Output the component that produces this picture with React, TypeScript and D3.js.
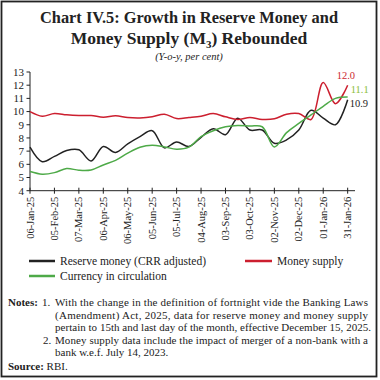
import React from "react";
import * as d3 from "d3";

const dates = [
  "06-Jan-25","21-Jan-25","05-Feb-25","20-Feb-25","07-Mar-25","22-Mar-25","06-Apr-25","21-Apr-25",
  "06-May-25","21-May-25","05-Jun-25","20-Jun-25","05-Jul-25","20-Jul-25","04-Aug-25","19-Aug-25",
  "03-Sep-25","18-Sep-25","03-Oct-25","18-Oct-25","02-Nov-25","17-Nov-25","02-Dec-25","17-Dec-25",
  "01-Jan-26","16-Jan-26","31-Jan-26",
];
const reserveMoney = [7.3,6.2,6.6,7.05,7.1,6.25,7.35,6.9,7.55,8.1,8.55,7.25,7.7,7.35,8.05,8.7,8.25,9.5,8.6,8.6,7.6,7.85,8.6,10.1,9.5,9.0,10.9];
const moneySupply = [10.0,9.65,9.85,9.75,9.7,9.7,9.57,9.68,9.55,9.52,9.6,9.8,9.47,9.55,9.65,9.85,9.6,9.4,9.55,9.4,9.45,9.8,9.85,9.4,12.2,10.6,12.0];
const currency = [5.45,5.25,5.37,5.68,5.55,5.57,5.95,6.3,6.85,7.3,7.45,7.32,7.15,7.3,8.1,8.55,8.85,8.95,8.9,8.85,7.32,8.4,9.1,9.75,10.4,11.0,11.1];
const xTickLabels = ["06-Jan-25","05-Feb-25","07-Mar-25","06-Apr-25","06-May-25","05-Jun-25","05-Jul-25","04-Aug-25","03-Sep-25","03-Oct-25","02-Nov-25","02-Dec-25","01-Jan-26","31-Jan-26"];
const yTicks = [4,5,6,7,8,9,10,11,12,13];
const endLabels = ["10.9","12.0","11.1"];

const parse = d3.timeParse("%d-%b-%y");
const serif = "'Liberation Serif', 'DejaVu Serif', serif";

export default function App() {
  const x = d3.scaleTime().domain([parse("06-Jan-25")!, parse("09-Feb-26")!]).range([30, 355]);
  const y = d3.scaleLinear().domain([4, 13]).range([190.7, 72]);
  const parsed = dates.map((d) => parse(d)!);
  const line = d3.line<number>().x((_, i) => x(parsed[i])).y((v) => y(v)).curve(d3.curveCatmullRom.alpha(0.5));
  const series = [
    { vals: reserveMoney, color: "#222222" },
    { vals: moneySupply, color: "#CC1F2F" },
    { vals: currency, color: "#4EAA48" },
  ];
  const lastX = x(parsed[parsed.length - 1]);
  return (
    <svg width={380} height={380} style={{ position: "absolute", left: 0, top: 0 }}>
      <rect x={0} y={0} width={380} height={380} fill="#fff" />
      <rect x={1.5} y={1.5} width={375} height={375} fill="none" stroke="#222" strokeWidth={1.8} />
      <text x={189} y={23} textAnchor="middle" fontFamily={serif} fontWeight="bold" fontSize={17.5} fill="#222" textLength={298} lengthAdjust="spacingAndGlyphs">Chart IV.5: Growth in Reserve Money and</text>
      <text x={189} y={44} textAnchor="middle" fontFamily={serif} fontWeight="bold" fontSize={17.5} fill="#222">
        Money Supply (M<tspan fontSize={11} dy={4}>3</tspan><tspan dy={-4}>) Rebounded</tspan>
      </text>
      <text x={189} y={60} textAnchor="middle" fontFamily={serif} fontStyle="italic" fontSize={10.5} fill="#222">(Y-o-y, per cent)</text>

      {/* y axis */}
      <line x1={30} x2={30} y1={y(13)} y2={y(4)} stroke="#222" strokeWidth={1} />
      {yTicks.map((t) => (
        <g key={t}>
          <line x1={26.5} x2={30} y1={y(t)} y2={y(t)} stroke="#222" />
          <text x={24} y={y(t)} dy="0.35em" textAnchor="end" fontFamily={serif} fontSize={11} fill="#222">{t}</text>
        </g>
      ))}
      {/* x axis */}
      <line x1={30} x2={355} y1={y(4)} y2={y(4)} stroke="#222" strokeWidth={1} />
      {xTickLabels.map((t) => {
        const xx = x(parse(t)!);
        return (
          <g key={t}>
            <line x1={xx} x2={xx} y1={y(4) - 3} y2={y(4) + 3} stroke="#222" />
            <text transform={`translate(${xx + 3.5},${y(4) + 6}) rotate(-90)`} textAnchor="end" fontFamily={serif} fontSize={10.5} fill="#222">{t}</text>
          </g>
        );
      })}

      {series.map((s, i) => (
        <path key={i} d={line(s.vals) || ""} fill="none" stroke={s.color} strokeWidth={1.5} />
      ))}

      <text x={lastX - 11} y={y(moneySupply[26]) - 6} fontFamily={serif} fontSize={10.5} fill="#CC1F2F">{endLabels[1]}</text>
      <text x={lastX + 3} y={y(currency[26]) - 4} fontFamily={serif} fontSize={10.5} fill="#8DBE3C">{endLabels[2]}</text>
      <text x={lastX + 2} y={y(reserveMoney[26]) + 7} fontFamily={serif} fontSize={10.5} fill="#222">{endLabels[0]}</text>

      {/* legend */}
      <line x1={29} x2={55} y1={261} y2={261} stroke="#222222" strokeWidth={2.5} />
      <text x={60} y={261} dy="0.35em" fontFamily={serif} fontSize={11.5} fill="#222">Reserve money (CRR adjusted)</text>
      <line x1={245} x2={272} y1={261} y2={261} stroke="#CC1F2F" strokeWidth={2.5} />
      <text x={277} y={261} dy="0.35em" fontFamily={serif} fontSize={11.5} fill="#222">Money supply</text>
      <line x1={29} x2={55} y1={276} y2={276} stroke="#4EAA48" strokeWidth={2.5} />
      <text x={60} y={276} dy="0.35em" fontFamily={serif} fontSize={11.5} fill="#222">Currency in circulation</text>

      {/* notes */}
      <g fontFamily={serif} fontSize={11} fill="#222">
        <text x={8} y={306} fontWeight="bold">Notes:</text>
        <text x={42} y={306}>1.</text>
        <text x={55} y={306} textLength={313} lengthAdjust="spacing">With the change in the definition of fortnight vide the Banking Laws</text>
        <text x={55} y={318.5} textLength={313} lengthAdjust="spacing">(Amendment) Act, 2025, data for reserve money and money supply</text>
        <text x={55} y={331} textLength={316} lengthAdjust="spacing">pertain to 15th and last day of the month, effective December 15, 2025.</text>
        <text x={43} y={343.5}>2.</text>
        <text x={55} y={343.5} textLength={313} lengthAdjust="spacing">Money supply data include the impact of merger of a non-bank with a</text>
        <text x={55} y={356}>bank w.e.f. July 14, 2023.</text>
        <text x={8} y={369.5}><tspan fontWeight="bold">Source:</tspan> RBI.</text>
      </g>
    </svg>
  );
}
